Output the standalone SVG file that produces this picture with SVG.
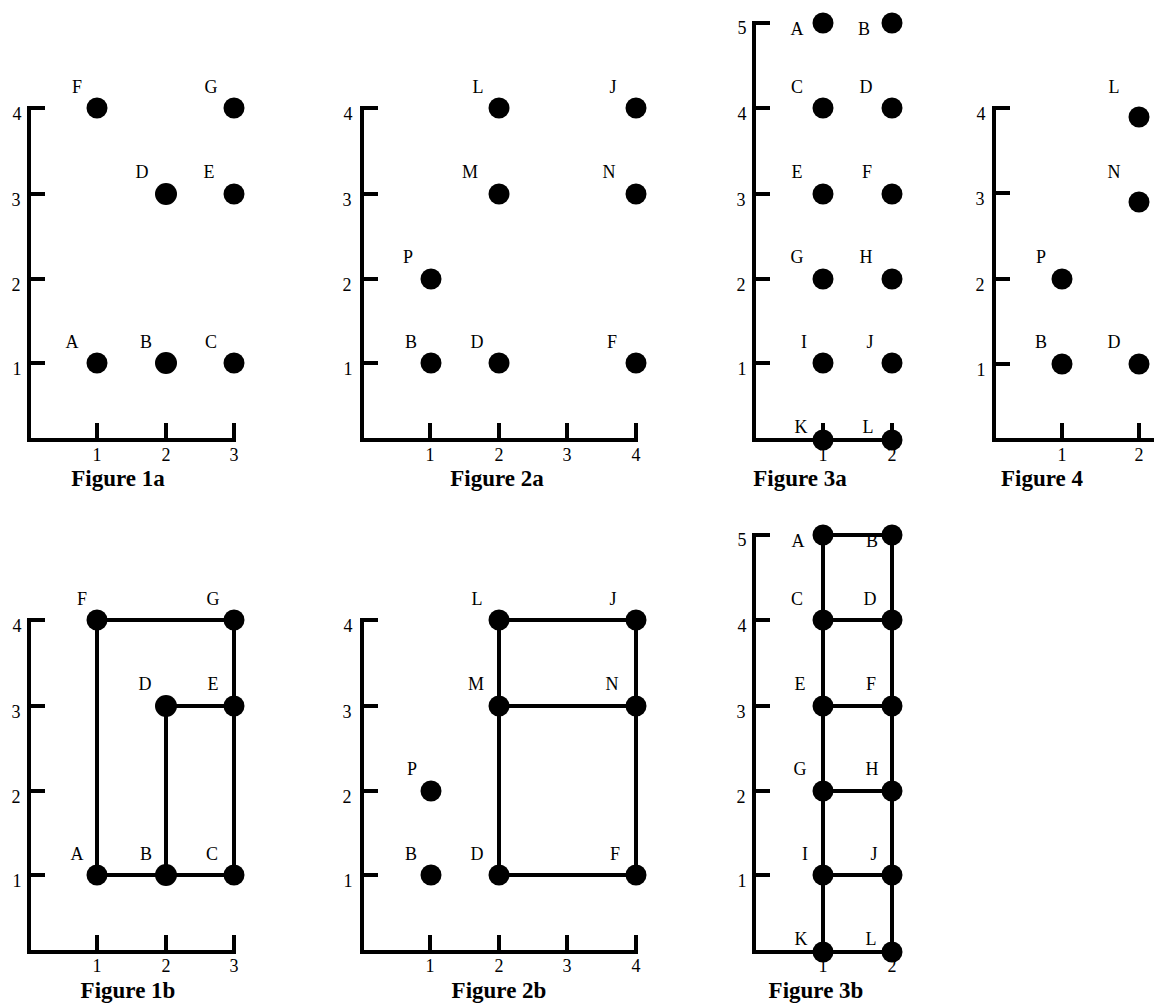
<svg xmlns="http://www.w3.org/2000/svg" width="1154" height="1007" viewBox="0 0 1154 1007">
<style>
.ax{stroke:#000;stroke-width:4;fill:none;stroke-linejoin:miter;stroke-linecap:butt}
.edge{stroke:#000;stroke-width:4;fill:none}
.dot{fill:#000}
.t{font-family:"Liberation Serif","Times New Roman",serif;font-size:18px;text-anchor:middle;fill:#000}
.ti{font-family:"Liberation Serif","Times New Roman",serif;font-size:23px;font-weight:bold;text-anchor:middle;fill:#000}
</style>
<rect width="1154" height="1007" fill="#fff"/>

<!-- ===== Axes ===== -->
<g id="axes">
  <!-- Figure 1a -->
  <path class="ax" d="M45,108H29V440H234V423M29,194H45M29,279H45M29,363H45M97,440V423M166,440V423"/>
  <g class="t"><text x="17" y="120">4</text><text x="16" y="206">3</text><text x="16" y="291">2</text><text x="17" y="375">1</text>
  <text x="97" y="461">1</text><text x="166" y="461">2</text><text x="234" y="461">3</text></g>
  <text class="ti" x="118" y="486">Figure 1a</text>
  <!-- Figure 1b -->
  <path class="ax" d="M45,620H29V952H234V935M29,706H45M29,791H45M29,875H45M97,952V935M166,952V935"/>
  <g class="t"><text x="17" y="632">4</text><text x="16" y="718">3</text><text x="16" y="803">2</text><text x="17" y="887">1</text>
  <text x="97" y="972">1</text><text x="166" y="972">2</text><text x="234" y="972">3</text></g>
  <text class="ti" x="128" y="998">Figure 1b</text>
  <!-- Figure 2a -->
  <path class="ax" d="M378,108H362V440H636V423M362,194H378M362,279H378M362,363H378M430,440V423M499,440V423M567,440V423"/>
  <g class="t"><text x="348" y="120">4</text><text x="347" y="206">3</text><text x="347" y="291">2</text><text x="348" y="375">1</text>
  <text x="430" y="461">1</text><text x="499" y="461">2</text><text x="567" y="461">3</text><text x="636" y="461">4</text></g>
  <text class="ti" x="497" y="486">Figure 2a</text>
  <!-- Figure 2b -->
  <path class="ax" d="M378,620H362V952H636V935M362,706H378M362,791H378M362,875H378M430,952V935M499,952V935M567,952V935"/>
  <g class="t"><text x="348" y="632">4</text><text x="347" y="718">3</text><text x="347" y="803">2</text><text x="348" y="887">1</text>
  <text x="430" y="972">1</text><text x="499" y="972">2</text><text x="567" y="972">3</text><text x="636" y="972">4</text></g>
  <text class="ti" x="499" y="998">Figure 2b</text>
  <!-- Figure 3a -->
  <path class="ax" d="M770,23H754V440H892V423M754,108H770M754,194H770M754,279H770M754,363H770M823,440V423"/>
  <g class="t"><text x="742" y="34">5</text><text x="742" y="120">4</text><text x="741" y="206">3</text><text x="741" y="291">2</text><text x="742" y="375">1</text>
  <text x="823" y="461">1</text><text x="892" y="461">2</text></g>
  <text class="ti" x="800" y="486">Figure 3a</text>
  <!-- Figure 3b -->
  <path class="ax" d="M770,535H754V952H892V935M754,620H770M754,706H770M754,791H770M754,875H770M823,952V935"/>
  <g class="t"><text x="742" y="546">5</text><text x="742" y="632">4</text><text x="741" y="718">3</text><text x="741" y="803">2</text><text x="742" y="887">1</text>
  <text x="823" y="972">1</text><text x="892" y="972">2</text></g>
  <text class="ti" x="816" y="998">Figure 3b</text>
  <!-- Figure 4 -->
  <path class="ax" d="M1010,108H994V440H1154M994,193H1010M994,279H1010M994,364H1010M1062,440V423M1139,440V423"/>
  <g class="t"><text x="981" y="120">4</text><text x="980" y="205">3</text><text x="980" y="291">2</text><text x="981" y="376">1</text>
  <text x="1062" y="461">1</text><text x="1139" y="461">2</text></g>
  <text class="ti" x="1042" y="486">Figure 4</text>
</g>

<!-- ===== Connectors ===== -->
<g id="connectors" class="edge">
  <!-- Figure 1b -->
  <line x1="97" y1="620" x2="234" y2="620"/>
  <line x1="97" y1="620" x2="97" y2="875"/>
  <line x1="97" y1="875" x2="234" y2="875"/>
  <line x1="166" y1="706" x2="234" y2="706"/>
  <line x1="166" y1="706" x2="166" y2="875"/>
  <line x1="234" y1="620" x2="234" y2="875"/>
  <!-- Figure 2b -->
  <line x1="499" y1="620" x2="636" y2="620"/>
  <line x1="499" y1="706" x2="636" y2="706"/>
  <line x1="499" y1="875" x2="636" y2="875"/>
  <line x1="499" y1="620" x2="499" y2="875"/>
  <line x1="636" y1="620" x2="636" y2="875"/>
  <!-- Figure 3b -->
  <line x1="823" y1="535" x2="892" y2="535"/>
  <line x1="823" y1="620" x2="892" y2="620"/>
  <line x1="823" y1="706" x2="892" y2="706"/>
  <line x1="823" y1="791" x2="892" y2="791"/>
  <line x1="823" y1="875" x2="892" y2="875"/>
  <line x1="823" y1="952" x2="892" y2="952"/>
  <line x1="823" y1="535" x2="823" y2="952"/>
  <line x1="892" y1="535" x2="892" y2="952"/>
</g>

<!-- ===== Nodes ===== -->
<g id="fig1a">
  <g id="f1a-F"><circle class="dot" cx="97" cy="108" r="10.5"/><text class="t" x="77" y="93">F</text></g>
  <g id="f1a-G"><circle class="dot" cx="234" cy="108" r="10.5"/><text class="t" x="211" y="93">G</text></g>
  <g id="f1a-D"><circle class="dot" cx="166" cy="194" r="11"/><text class="t" x="142" y="178">D</text></g>
  <g id="f1a-E"><circle class="dot" cx="234" cy="194" r="10.5"/><text class="t" x="209" y="178">E</text></g>
  <g id="f1a-A"><circle class="dot" cx="97" cy="363" r="10.5"/><text class="t" x="72" y="348">A</text></g>
  <g id="f1a-B"><circle class="dot" cx="166" cy="363" r="11"/><text class="t" x="146" y="348">B</text></g>
  <g id="f1a-C"><circle class="dot" cx="234" cy="363" r="10.5"/><text class="t" x="211" y="348">C</text></g>
</g>
<g id="fig1b">
  <g id="f1b-F"><circle class="dot" cx="97" cy="620" r="10.5"/><text class="t" x="82" y="605">F</text></g>
  <g id="f1b-G"><circle class="dot" cx="234" cy="620" r="10.5"/><text class="t" x="213" y="605">G</text></g>
  <g id="f1b-D"><circle class="dot" cx="166" cy="706" r="11"/><text class="t" x="145" y="690">D</text></g>
  <g id="f1b-E"><circle class="dot" cx="234" cy="706" r="10.5"/><text class="t" x="213" y="690">E</text></g>
  <g id="f1b-A"><circle class="dot" cx="97" cy="875" r="10.5"/><text class="t" x="77" y="860">A</text></g>
  <g id="f1b-B"><circle class="dot" cx="166" cy="875" r="11"/><text class="t" x="146" y="860">B</text></g>
  <g id="f1b-C"><circle class="dot" cx="234" cy="875" r="10.5"/><text class="t" x="212" y="860">C</text></g>
</g>
<g id="fig2a">
  <g id="f2a-L"><circle class="dot" cx="499" cy="108" r="10.5"/><text class="t" x="478" y="93">L</text></g>
  <g id="f2a-J"><circle class="dot" cx="636" cy="108" r="10.5"/><text class="t" x="613" y="93">J</text></g>
  <g id="f2a-M"><circle class="dot" cx="499" cy="194" r="10.5"/><text class="t" x="470" y="178">M</text></g>
  <g id="f2a-N"><circle class="dot" cx="636" cy="194" r="10.5"/><text class="t" x="609" y="178">N</text></g>
  <g id="f2a-P"><circle class="dot" cx="431" cy="279" r="10.5"/><text class="t" x="408" y="263">P</text></g>
  <g id="f2a-B"><circle class="dot" cx="431" cy="363" r="10.5"/><text class="t" x="411" y="348">B</text></g>
  <g id="f2a-D"><circle class="dot" cx="499" cy="363" r="10.5"/><text class="t" x="477" y="348">D</text></g>
  <g id="f2a-F"><circle class="dot" cx="636" cy="363" r="10.5"/><text class="t" x="612" y="348">F</text></g>
</g>
<g id="fig2b">
  <g id="f2b-L"><circle class="dot" cx="499" cy="620" r="10.5"/><text class="t" x="477" y="605">L</text></g>
  <g id="f2b-J"><circle class="dot" cx="636" cy="620" r="10.5"/><text class="t" x="613" y="605">J</text></g>
  <g id="f2b-M"><circle class="dot" cx="499" cy="706" r="10.5"/><text class="t" x="476" y="690">M</text></g>
  <g id="f2b-N"><circle class="dot" cx="636" cy="706" r="10.5"/><text class="t" x="612" y="690">N</text></g>
  <g id="f2b-P"><circle class="dot" cx="431" cy="791" r="10.5"/><text class="t" x="412" y="775">P</text></g>
  <g id="f2b-B"><circle class="dot" cx="431" cy="875" r="10.5"/><text class="t" x="411" y="860">B</text></g>
  <g id="f2b-D"><circle class="dot" cx="499" cy="875" r="10.5"/><text class="t" x="477" y="860">D</text></g>
  <g id="f2b-F"><circle class="dot" cx="636" cy="875" r="10.5"/><text class="t" x="615" y="860">F</text></g>
</g>
<g id="fig3a">
  <g id="f3a-A"><circle class="dot" cx="823" cy="23" r="10.5"/><text class="t" x="797" y="35">A</text></g>
  <g id="f3a-B"><circle class="dot" cx="892" cy="23" r="10.5"/><text class="t" x="864" y="35">B</text></g>
  <g id="f3a-C"><circle class="dot" cx="823" cy="108" r="10.5"/><text class="t" x="797" y="93">C</text></g>
  <g id="f3a-D"><circle class="dot" cx="892" cy="108" r="10.5"/><text class="t" x="866" y="93">D</text></g>
  <g id="f3a-E"><circle class="dot" cx="823" cy="194" r="10.5"/><text class="t" x="797" y="178">E</text></g>
  <g id="f3a-F"><circle class="dot" cx="892" cy="194" r="10.5"/><text class="t" x="867" y="178">F</text></g>
  <g id="f3a-G"><circle class="dot" cx="823" cy="279" r="10.5"/><text class="t" x="797" y="263">G</text></g>
  <g id="f3a-H"><circle class="dot" cx="892" cy="279" r="10.5"/><text class="t" x="866" y="263">H</text></g>
  <g id="f3a-I"><circle class="dot" cx="823" cy="363" r="10.5"/><text class="t" x="804" y="348">I</text></g>
  <g id="f3a-J"><circle class="dot" cx="892" cy="363" r="10.5"/><text class="t" x="870" y="348">J</text></g>
  <g id="f3a-K"><circle class="dot" cx="823" cy="440" r="10.5"/><text class="t" x="801" y="433">K</text></g>
  <g id="f3a-L"><circle class="dot" cx="892" cy="440" r="10.5"/><text class="t" x="868" y="433">L</text></g>
</g>
<g id="fig3b">
  <g id="f3b-A"><circle class="dot" cx="823" cy="535" r="10.5"/><text class="t" x="798" y="547">A</text></g>
  <g id="f3b-B"><circle class="dot" cx="892" cy="535" r="10.5"/><text class="t" x="872" y="547">B</text></g>
  <g id="f3b-C"><circle class="dot" cx="823" cy="620" r="10.5"/><text class="t" x="797" y="605">C</text></g>
  <g id="f3b-D"><circle class="dot" cx="892" cy="620" r="10.5"/><text class="t" x="870" y="605">D</text></g>
  <g id="f3b-E"><circle class="dot" cx="823" cy="706" r="10.5"/><text class="t" x="800" y="690">E</text></g>
  <g id="f3b-F"><circle class="dot" cx="892" cy="706" r="10.5"/><text class="t" x="871" y="690">F</text></g>
  <g id="f3b-G"><circle class="dot" cx="823" cy="791" r="10.5"/><text class="t" x="800" y="775">G</text></g>
  <g id="f3b-H"><circle class="dot" cx="892" cy="791" r="10.5"/><text class="t" x="872" y="775">H</text></g>
  <g id="f3b-I"><circle class="dot" cx="823" cy="875" r="10.5"/><text class="t" x="805" y="860">I</text></g>
  <g id="f3b-J"><circle class="dot" cx="892" cy="875" r="10.5"/><text class="t" x="874" y="860">J</text></g>
  <g id="f3b-K"><circle class="dot" cx="823" cy="952" r="10.5"/><text class="t" x="801" y="945">K</text></g>
  <g id="f3b-L"><circle class="dot" cx="892" cy="952" r="10.5"/><text class="t" x="871" y="945">L</text></g>
</g>
<g id="fig4">
  <g id="f4-L"><circle class="dot" cx="1139" cy="117" r="10.5"/><text class="t" x="1114" y="93">L</text></g>
  <g id="f4-N"><circle class="dot" cx="1139" cy="202" r="10.5"/><text class="t" x="1114" y="178">N</text></g>
  <g id="f4-P"><circle class="dot" cx="1062" cy="279" r="10.5"/><text class="t" x="1041" y="263">P</text></g>
  <g id="f4-B"><circle class="dot" cx="1062" cy="364" r="10.5"/><text class="t" x="1041" y="348">B</text></g>
  <g id="f4-D"><circle class="dot" cx="1139" cy="364" r="10.5"/><text class="t" x="1114" y="348">D</text></g>
</g>
</svg>
